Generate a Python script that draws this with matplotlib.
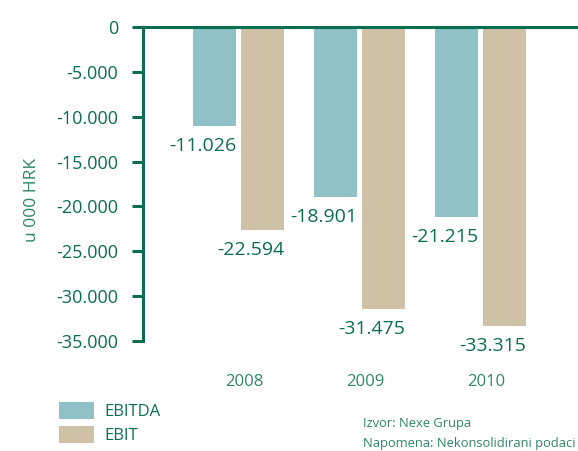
import numpy as np
import matplotlib
matplotlib.use('Agg')
from matplotlib import pyplot as plt

plt.rcParams['font.family'] = ['Open Sans', 'DejaVu Sans']

years = ['2008', '2009', '2010']
ebitda = [-11026, -18901, -21215]
ebit = [-22594, -31475, -33315]
ebitda_lbl = ['-11.026', '-18.901', '-21.215']
ebit_lbl = ['-22.594', '-31.475', '-33.315']
yticks = [0, -5000, -10000, -15000, -20000, -25000, -30000, -35000]
ytick_lbl = ['0', '-5.000', '-10.000', '-15.000', '-20.000', '-25.000', '-30.000', '-35.000']

c_ebitda = '#8fc1c6'
c_ebit = '#cfc1a6'
green = '#0b6e50'
light_green = '#2f8568'

W, H = 578, 451
fig = plt.figure(figsize=(W / 100, H / 100), dpi=100)
ax = fig.add_axes([143 / W, 1 - 341 / H, (577 - 143) / W, (341 - 27) / H])

x = np.arange(len(years))
bw = 43 / 121
off = 24 / 121
b1 = ax.bar(x - off, ebitda, bw, color=c_ebitda, label='EBITDA')
b2 = ax.bar(x + off, ebit, bw, color=c_ebit, label='EBIT')

for i in range(len(years)):
    ax.annotate(ebitda_lbl[i], (x[i] - off + bw / 2, ebitda[i]), xytext=(0, -8),
                textcoords='offset points', ha='right', va='top', fontsize=14,
                fontweight='medium', color=green)
    ax.annotate(ebit_lbl[i], (x[i] + off + bw / 2, ebit[i]), xytext=(0, -8),
                textcoords='offset points', ha='right', va='top', fontsize=14,
                fontweight='medium', color=green)

ax.set_xlim(-95.5 / 121, (577 - 238.5) / 121)
ax.set_ylim(-35000, 0)

for s in ['right', 'bottom']:
    ax.spines[s].set_visible(False)
ax.spines['left'].set_color(green)
ax.spines['top'].set_color(green)
ax.spines['left'].set_linewidth(2.2)
ax.spines['top'].set_linewidth(2.2)

ax.set_yticks(yticks)
ax.set_yticklabels(ytick_lbl)
ax.tick_params(axis='y', direction='out', length=8, width=2.2, color=green,
               labelcolor=green, labelsize=13, pad=10)
ax.set_xticks(x + 0.05)
ax.set_xticklabels(years)
ax.tick_params(axis='x', length=0, labelcolor=light_green, labelsize=12, pad=24)

ax.set_ylabel('u 000 HRK', color=light_green, fontsize=12.5)
ax.yaxis.set_label_coords(-0.237, 0.449)

fig.legend(handles=[b1, b2], labels=['EBITDA', 'EBIT'], loc='upper left',
           bbox_to_anchor=(59 / W, 1 - 402 / H), frameon=False, fontsize=12,
           borderpad=0, borderaxespad=0,
           handlelength=35 / 16.7, handleheight=20 / 16.7, handletextpad=0.6,
           labelspacing=0.35, labelcolor=green)

fig.text(363 / W, 1 - 423 / H, 'Izvor: Nexe Grupa', fontsize=9.3, color=light_green, va='center')
fig.text(363 / W, 1 - 443 / H, 'Napomena: Nekonsolidirani podaci', fontsize=9.3,
         color=light_green, va='center')

fig.savefig('out.png', dpi=100)
